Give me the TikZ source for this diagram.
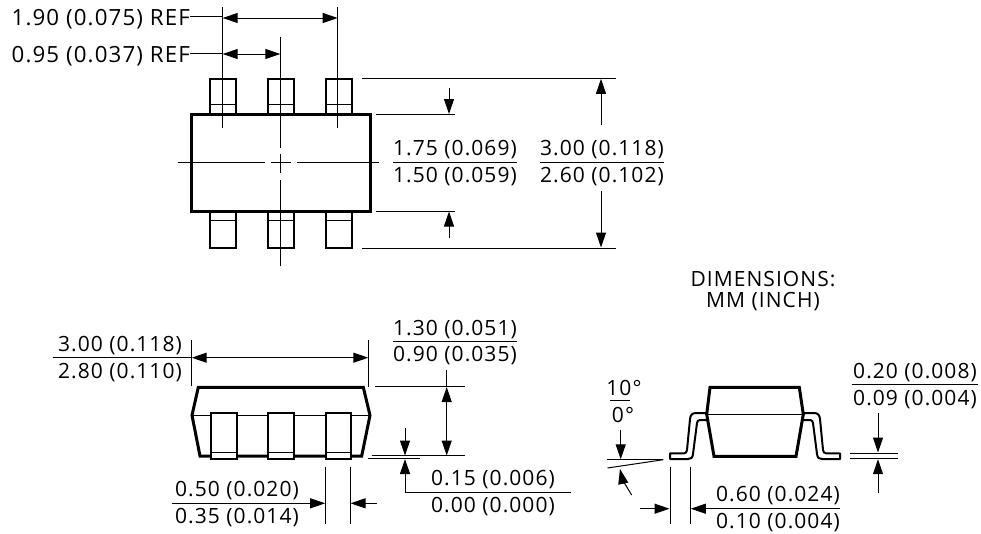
\documentclass[tikz,border=0pt]{standalone}
\usepackage{fontspec}
\setmainfont{Open Sans}[LetterSpace=5]
\usetikzlibrary{arrows.meta,positioning}
\tikzset
{
    dimtext/.style  = {font=\fontsize{21}{24}\selectfont, inner sep=0pt, align=center, yshift=-2pt},
    widetext/.style = {dimtext, font=\fontsize{22.3}{24}\selectfont},
    outline/.style  = {draw=black, line width=3pt, line join=miter},
    leadbox/.style  = {draw=black, line width=2pt, fill=white},
    thinline/.style = {draw=black, line width=1pt},
    dimarrow/.style = {thinline, -{Triangle[length=15pt,width=10pt]}},
    twoarrow/.style = {thinline, {Triangle[length=15pt,width=10pt]}-{Triangle[length=15pt,width=10pt]}}
}
\begin{document}
\begin{tikzpicture}[x=1pt,y=-1pt]
    \useasboundingbox (0,0) rectangle (981,533);

    % top view
    \foreach \leadx in {210,268,326}
    {
        \draw [leadbox] (\leadx,78.5) rectangle (\leadx+25.5,115);
        \draw [thinline] (\leadx,104) -- (\leadx+25.5,104);
        \draw [leadbox] (\leadx,211) rectangle (\leadx+25.5,248);
        \draw [thinline] (\leadx,220.5) -- (\leadx+25.5,220.5);
    }
    \draw [outline, fill=white] (191.5,114.5) rectangle (370,211);
    \draw [thinline] (222.7,7) -- (222.7,128);
    \draw [thinline] (337.7,7) -- (337.7,128);
    \draw [thinline] (280.3,37) -- (280.3,147.5);
    \draw [thinline] (280.3,154) -- (280.3,173);
    \draw [thinline] (280.3,179.5) -- (280.3,266);
    \draw [thinline] (177.5,162.7) -- (265,162.7);
    \draw [thinline] (270.5,162.7) -- (291,162.7);
    \draw [thinline] (296.5,162.7) -- (378.5,162.7);

    \node [widetext, anchor=east] (ref190) at (190,17) {1.90 (0.075) REF};
    \node [widetext, anchor=east] (ref095) at (190,54) {0.95 (0.037) REF};
    \coordinate (pitchA) at (222.7,16.7);
    \coordinate (pitchB) at (222.7,53.5);
    \draw [thinline] (ref190.east |- pitchA) -- (pitchA);
    \draw [thinline] (ref095.east |- pitchB) -- (pitchB);
    \draw [twoarrow] (222.7,18) -- (337.7,18);
    \draw [twoarrow] (222.7,54) -- (280.3,54);

    \draw [thinline] (362,78.3) -- (616,78.3);
    \draw [thinline] (376,114.5) -- (455,114.5);
    \draw [thinline] (376,211) -- (455,211);
    \draw [thinline] (362,248) -- (616,248);
    \draw [dimarrow] (449,88) -- (449,114);
    \draw [dimarrow] (449,238) -- (449,211.5);
    \draw [dimarrow] (601,125) -- (601,78.8);
    \draw [dimarrow] (601,191) -- (601,247.5);

    \node [dimtext] (body175) at (455,148) {1.75 (0.069)};
    \node [dimtext] (body150) at (455,175) {1.50 (0.059)};
    \draw [thinline] (393,162.7) -- (517,162.7);
    \node [dimtext] (total300) at (602,148) {3.00 (0.118)};
    \node [dimtext] (total260) at (602,175) {2.60 (0.102)};
    \draw [thinline] (540,162.7) -- (664,162.7);

    \node [dimtext] (unitsA) at (763,277) {DIMENSIONS:};
    \node [dimtext] (unitsB) at (763,300) {MM (INCH)};

    % side view
    \draw [outline] (198.3,387.3) -- (363.3,387.3) -- (370,415.3) -- (361.7,456) -- (200,456) -- (192,415.3) -- cycle;
    \draw [thinline] (192,415.3) -- (370,415.3);
    \foreach \leadx in {211,268,325.5}
    {
        \draw [leadbox] (\leadx,413) rectangle (\leadx+25.5,459.3);
        \draw [thinline] (\leadx,452.7) -- (\leadx+25.5,452.7);
    }

    \node [dimtext] (len300) at (120,344) {3.00 (0.118)};
    \node [dimtext] (len280) at (120,371) {2.80 (0.110)};
    \draw [thinline] (52.5,357) -- (191.7,357);
    \draw [thinline] (191.7,340) -- (191.7,386);
    \draw [thinline] (368.3,340) -- (368.3,386.7);
    \draw [twoarrow] (191.7,357.7) -- (368.3,357.7);

    \node [dimtext] (high130) at (455,328) {1.30 (0.051)};
    \node [dimtext] (high090) at (455,354) {0.90 (0.035)};
    \draw [thinline] (393,341) -- (517,341);
    \draw [thinline] (375,386.7) -- (465,386.7);
    \draw [thinline] (371.5,455.7) -- (465,455.7);
    \draw [thinline] (368,458.5) -- (420,458.5);
    \draw [thinline] (446.7,370) -- (446.7,387);
    \draw [twoarrow] (446.7,387) -- (446.7,455.5);

    \node [dimtext] (gap015) at (493,478) {0.15 (0.006)};
    \node [dimtext] (gap000) at (493,505) {0.00 (0.000)};
    \draw [dimarrow] (405,428) -- (405,455.5);
    \draw [thinline] (571,492.5) -- (405,492.5);
    \draw [dimarrow] (405,492.5) -- (405,459);

    \node [dimtext] (pad050) at (237,489) {0.50 (0.020)};
    \node [dimtext] (pad035) at (237,516) {0.35 (0.014)};
    \draw [thinline] (325.7,466.5) -- (325.7,524);
    \draw [thinline] (350,466.5) -- (350,524);
    \draw [dimarrow] (172,503.3) -- (325.2,503.3);
    \draw [dimarrow] (376.5,503.3) -- (350.5,503.3);

    % end view
    \draw [leadbox, line join=round] (670,453.3) -- (684,453.3) .. controls (686,453.3) and (686.5,452) .. (687,450) -- (690,419) .. controls (690.5,415) and (692,413) .. (696,413) -- (707,413) -- (708,420) -- (700,420) .. controls (698,420) and (697.5,421) .. (697,423) -- (693,454) .. controls (692.5,458) and (691,459) .. (688,459) -- (670,459) -- cycle;
    \draw [leadbox, line join=round] (840,453.3) -- (826,453.3) .. controls (824,453.3) and (823.5,452) .. (823,450) -- (820,419) .. controls (819.5,415) and (818,413) .. (814,413) -- (803,413) -- (802,420) -- (810,420) .. controls (812,420) and (812.5,421) .. (813,423) -- (817,454) .. controls (817.5,458) and (819,459) .. (822,459) -- (840,459) -- cycle;
    \draw [outline, fill=white] (710,387.3) -- (799.3,387.3) -- (803.3,414.3) -- (796,456.3) -- (714,456.3) -- (706.7,414.3) -- cycle;
    \draw [thinline] (706.7,414.3) -- (803.3,414.3);

    \node [dimtext] (angle10) at (624,386) {10°};
    \node [dimtext] (angle0) at (623,413) {0°};
    \draw [thinline] (610,400.7) -- (629.5,400.7);
    \draw [dimarrow] (620.7,430) -- (620.7,459.3);
    \draw [thinline] (606.7,459.7) -- (663.3,459.7);
    \draw [thinline] (607.5,468) -- (663.3,459.7);
    \draw [dimarrow] (631.7,495) .. controls (626,486) and (622,478) .. (620,469);

    \node [dimtext] (foot060) at (778,494) {0.60 (0.024)};
    \node [dimtext] (foot010) at (778,521) {0.10 (0.004)};
    \draw [thinline] (670,466.7) -- (670,524.3);
    \draw [thinline] (690.3,466.7) -- (690.3,524.3);
    \draw [dimarrow] (640,508.7) -- (669.5,508.7);
    \draw [dimarrow] (840,508.7) -- (690.8,508.7);

    \node [dimtext] (thick020) at (915,371) {0.20 (0.008)};
    \node [dimtext] (thick009) at (915,398) {0.09 (0.004)};
    \draw [thinline] (852,384.5) -- (978,384.5);
    \draw [thinline] (850,453) -- (898,453);
    \draw [thinline] (850,458.7) -- (898,458.7);
    \draw [dimarrow] (878,413) -- (878,452.5);
    \draw [dimarrow] (878,493) -- (878,459.2);
\end{tikzpicture}
\end{document}
